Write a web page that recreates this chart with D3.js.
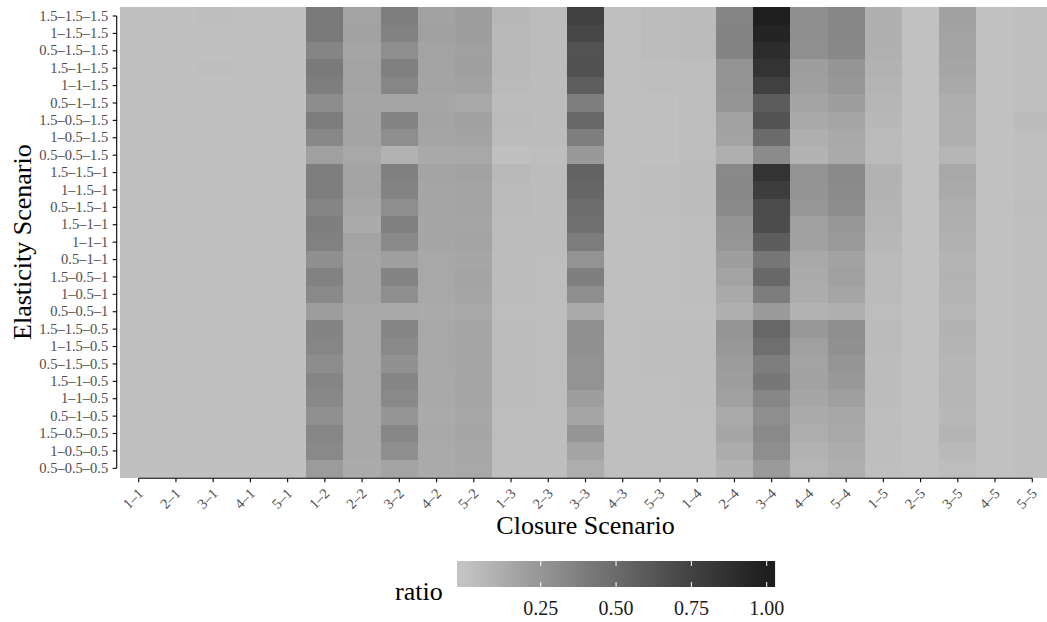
<!DOCTYPE html>
<html><head><meta charset="utf-8">
<script src="https://cdn.jsdelivr.net/npm/d3@7"></script>
<style>
body{margin:0;background:#fff}
svg{display:block}
text{font-family:"Liberation Serif","Times New Roman",serif}
</style>
</head><body>
<svg id="chart" width="1047" height="622"></svg>
<script>
const closures = ["1–1","2–1","3–1","4–1","5–1","1–2","2–2","3–2","4–2","5–2","1–3","2–3","3–3","4–3","5–3","1–4","2–4","3–4","4–4","5–4","1–5","2–5","3–5","4–5","5–5"];
const elasticities = ["1.5–1.5–1.5","1–1.5–1.5","0.5–1.5–1.5","1.5–1–1.5","1–1–1.5","0.5–1–1.5","1.5–0.5–1.5","1–0.5–1.5","0.5–0.5–1.5",
  "1.5–1.5–1","1–1.5–1","0.5–1.5–1","1.5–1–1","1–1–1","0.5–1–1","1.5–0.5–1","1–0.5–1","0.5–0.5–1",
  "1.5–1.5–0.5","1–1.5–0.5","0.5–1.5–0.5","1.5–1–0.5","1–1–0.5","0.5–1–0.5","1.5–0.5–0.5","1–0.5–0.5","0.5–0.5–0.5"];
const legendTicks = [0.25, 0.50, 0.75, 1.00];
// ratio[row][col]: rows follow elasticities, columns follow closures
const ratio = [
 [.016,.016,.028,.016,.016, .408,.175,.385,.181,.204, .060,.036,.767,.022,.039, .044,.345,1.00,.287,.332, .108,.011,.187,.011,.022],
 [.016,.016,.016,.016,.016, .408,.181,.363,.193,.204, .055,.036,.721,.022,.039, .044,.357,.957,.287,.332, .108,.011,.175,.011,.022],
 [.016,.016,.016,.016,.016, .345,.164,.292,.175,.193, .055,.036,.652,.022,.039, .044,.351,.900,.281,.326, .103,.011,.170,.011,.022],
 [.016,.016,.028,.016,.016, .408,.175,.374,.175,.198, .055,.036,.658,.022,.028, .033,.264,.851,.204,.253, .092,.011,.159,.011,.022],
 [.016,.016,.016,.016,.016, .385,.175,.339,.170,.181, .050,.036,.576,.022,.028, .033,.264,.767,.198,.242, .081,.011,.142,.011,.022],
 [.016,.016,.016,.016,.016, .298,.159,.164,.159,.147, .039,.036,.380,.022,.016, .033,.253,.588,.170,.204, .071,.011,.114,.011,.022],
 [.016,.016,.016,.016,.016, .391,.170,.357,.170,.193, .050,.036,.522,.022,.016, .033,.181,.645,.142,.164, .060,.011,.108,.011,.044],
 [.016,.016,.016,.016,.016, .326,.170,.292,.164,.175, .039,.036,.385,.022,.016, .033,.175,.498,.108,.142, .050,.011,.108,.011,.022],
 [.016,.016,.016,.016,.016, .193,.147,.092,.142,.147, .016,.028,.231,.022,.016, .033,.108,.308,.086,.136, .044,.011,.076,.011,.022],
 [.016,.016,.016,.016,.016, .385,.170,.374,.170,.181, .055,.036,.545,.022,.028, .039,.320,.851,.264,.314, .092,.011,.147,.011,.022],
 [.016,.016,.016,.016,.016, .385,.175,.357,.164,.170, .050,.036,.528,.022,.028, .039,.326,.787,.258,.308, .086,.011,.136,.011,.022],
 [.016,.016,.016,.016,.016, .345,.153,.292,.164,.170, .050,.036,.486,.022,.028, .039,.314,.690,.247,.298, .081,.011,.114,.011,.030],
 [.016,.016,.016,.016,.016, .380,.130,.374,.159,.164, .039,.036,.468,.022,.022, .033,.258,.690,.193,.242, .076,.011,.108,.011,.022],
 [.016,.016,.016,.016,.016, .368,.175,.320,.159,.175, .039,.036,.397,.022,.022, .028,.247,.582,.187,.225, .060,.011,.097,.011,.022],
 [.016,.016,.016,.016,.016, .287,.159,.198,.147,.159, .039,.030,.264,.022,.022, .028,.204,.431,.147,.181, .050,.011,.081,.011,.022],
 [.016,.016,.016,.016,.016, .363,.164,.351,.147,.170, .039,.030,.380,.022,.022, .028,.175,.516,.130,.193, .050,.011,.086,.011,.022],
 [.016,.016,.016,.016,.016, .320,.164,.292,.147,.164, .039,.030,.292,.022,.022, .028,.142,.391,.125,.164, .044,.011,.081,.011,.022],
 [.016,.016,.016,.016,.016, .209,.147,.142,.130,.147, .033,.028,.136,.022,.016, .022,.108,.225,.092,.108, .033,.011,.066,.011,.022],
 [.016,.016,.016,.016,.016, .351,.147,.345,.147,.164, .039,.030,.281,.022,.028, .028,.253,.522,.236,.292, .044,.011,.086,.011,.022],
 [.016,.016,.016,.016,.016, .339,.147,.320,.147,.159, .039,.030,.276,.022,.028, .028,.236,.474,.193,.281, .044,.011,.081,.011,.022],
 [.016,.016,.016,.016,.016, .298,.147,.276,.147,.159, .039,.030,.264,.022,.028, .028,.214,.385,.175,.253, .039,.011,.071,.011,.022],
 [.016,.016,.016,.016,.016, .345,.147,.345,.142,.164, .039,.030,.264,.022,.022, .028,.204,.425,.181,.231, .039,.011,.076,.011,.022],
 [.016,.016,.016,.016,.016, .326,.147,.320,.142,.159, .039,.030,.204,.022,.022, .028,.187,.339,.159,.198, .039,.011,.071,.011,.022],
 [.016,.016,.016,.016,.016, .281,.142,.253,.136,.153, .033,.028,.159,.022,.022, .022,.136,.292,.130,.153, .028,.011,.060,.011,.022],
 [.016,.016,.016,.016,.016, .339,.147,.332,.142,.159, .033,.028,.253,.022,.022, .022,.159,.320,.114,.147, .033,.011,.081,.011,.022],
 [.016,.016,.016,.016,.016, .320,.142,.292,.136,.153, .033,.028,.170,.022,.022, .022,.125,.292,.092,.125, .028,.011,.055,.011,.022],
 [.016,.016,.016,.016,.016, .219,.130,.170,.130,.147, .028,.028,.119,.022,.022, .022,.086,.225,.076,.108, .022,.011,.033,.011,.022]
];

const svg = d3.select("#chart");
const x = d3.scaleBand().domain(closures).range([120.1, 1050.9]).padding(0);
const y = d3.scaleBand().domain(elasticities).range([7.3, 477.0]).padding(0);
const color = d3.scaleLinear().domain([0, 1]).range(["#c3c3c3", "#1e1e1e"]).interpolate(d3.interpolateLab);

const cells = [];
elasticities.forEach((e, i) => closures.forEach((c, j) => cells.push({e, c, v: ratio[i][j]})));

svg.append("g").selectAll("rect").data(cells).join("rect")
  .attr("x", d => x(d.c)).attr("y", d => y(d.e))
  .attr("width", x.bandwidth() + 0.5).attr("height", y.bandwidth() + 0.5)
  .attr("fill", d => color(d.v)).attr("shape-rendering", "crispEdges");

const tickColor = "#4d4d4d";
const tickFont = "14.5px";

// y axis
const yAx = svg.append("g").attr("transform", "translate(116.7,0)")
  .call(d3.axisLeft(y).tickSize(4).tickPadding(4.5).tickSizeOuter(0));
yAx.select(".domain").attr("d", `M0,${y(elasticities[0]) + y.bandwidth()/2}V${y(elasticities[elasticities.length-1]) + y.bandwidth()/2}`)
  .attr("stroke", "#000").attr("stroke-width", 1.1);
yAx.selectAll(".tick line").attr("stroke", "#000").attr("stroke-width", 1.1);
yAx.selectAll(".tick text").attr("fill", tickColor).style("font-size", tickFont)
  .style("font-family", '"Liberation Serif","Times New Roman",serif');

// x axis
const xAx = svg.append("g").attr("transform", "translate(0,478.3)")
  .call(d3.axisBottom(x).tickSize(4).tickSizeOuter(0));
xAx.select(".domain").attr("d", `M${x(closures[0]) + x.bandwidth()/2},0H${x(closures[closures.length-1]) + x.bandwidth()/2}`)
  .attr("stroke", "#000").attr("stroke-width", 1.1);
xAx.selectAll(".tick line").attr("stroke", "#000").attr("stroke-width", 1.1);
xAx.selectAll(".tick text").attr("fill", tickColor).style("font-size", tickFont)
  .style("font-family", '"Liberation Serif","Times New Roman",serif')
  .attr("x", 0).attr("y", 0).attr("dy", 0)
  .attr("text-anchor", "end")
  .attr("transform", "translate(5.5,16) rotate(-45)");

// axis titles
svg.append("text").attr("x", (120.1 + 1050.9) / 2).attr("y", 534)
  .attr("text-anchor", "middle").style("font-size", "26px").attr("fill", "#000")
  .text("Closure Scenario");
svg.append("text").attr("transform", `translate(31,${(7.3 + 477) / 2}) rotate(-90)`)
  .attr("text-anchor", "middle").style("font-size", "26px").attr("fill", "#000")
  .text("Elasticity Scenario");

// legend
const lx = d3.scaleLinear().domain([0, 1]).range([465.4, 766.7]);
const barL = lx(-0.0278), barR = lx(1.0278), barT = 561, barH = 26;
const defs = svg.append("defs");
const grad = defs.append("linearGradient").attr("id", "lg")
  .attr("gradientUnits", "userSpaceOnUse")
  .attr("x1", lx(0)).attr("x2", lx(1)).attr("y1", 0).attr("y2", 0);
d3.range(0, 1.0001, 0.05).forEach(t => grad.append("stop").attr("offset", t).attr("stop-color", color(t)));
svg.append("rect").attr("x", barL).attr("y", barT).attr("width", barR - barL).attr("height", barH)
  .attr("fill", "url(#lg)");
const lg = svg.append("g");
legendTicks.forEach(t => {
  lg.append("line").attr("x1", lx(t)).attr("x2", lx(t)).attr("y1", barT).attr("y2", barT + 5)
    .attr("stroke", "#fff").attr("stroke-width", 1);
  lg.append("line").attr("x1", lx(t)).attr("x2", lx(t)).attr("y1", barT + barH - 5).attr("y2", barT + barH)
    .attr("stroke", "#fff").attr("stroke-width", 1);
  lg.append("text").attr("x", lx(t)).attr("y", 615).attr("text-anchor", "middle")
    .style("font-size", "20px").attr("fill", "#1a1a1a").text(t.toFixed(2));
});
svg.append("text").attr("x", 395).attr("y", 600).style("font-size", "26px").attr("fill", "#000").text("ratio");
</script>
</body></html>
